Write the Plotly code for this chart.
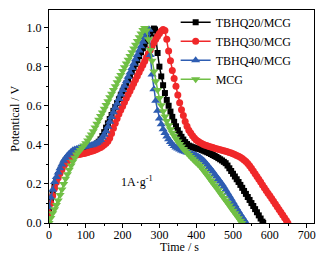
import plotly.graph_objects as go

# ---- data ----
T20_T = [0,5,10,15,20,25,30,35,40,45,50,55,60,65,70,75,80,85,90,95,100,105,110,115,120,125,130,135,140,145,150,155,160,165,170,175,180,185,190,195,200,205,210,215,220,225,230,235,240,245,250,255,260,265,270,275,280,285,
         288,290,295,300,305,310,315,320,325,330,335,340,345,350,355,360,365,370,375,380,385,390,395,400,405,410,415,420,425,430,435,440,445,450,455,460,465,470,475,480,485,490,495,500,505,510,515,520,525,530,535,540,545,550,555,560,565,570,575,580,582]
T20_V = [0.06,0.11,0.15,0.19,0.22,0.245,0.268,0.288,0.306,0.32,0.332,0.342,0.35,0.356,0.361,0.365,0.368,0.371,0.374,0.377,0.38,0.383,0.386,0.39,0.395,0.40,0.407,0.416,0.428,0.445,0.465,0.488,0.51,0.532,0.553,0.574,0.594,0.614,0.634,0.654,0.674,0.694,0.714,0.734,0.754,0.774,0.794,0.814,0.834,0.854,0.874,0.894,0.913,0.932,0.951,0.97,0.985,0.995,
         0.99,0.95,0.87,0.80,0.75,0.705,0.665,0.63,0.60,0.57,0.543,0.518,0.495,0.475,0.457,0.441,0.427,0.414,0.404,0.396,0.392,0.388,0.385,0.382,0.38,0.378,0.374,0.37,0.366,0.362,0.358,0.353,0.348,0.343,0.338,0.332,0.326,0.32,0.313,0.306,0.294,0.28,0.266,0.252,0.238,0.224,0.21,0.195,0.18,0.164,0.149,0.133,0.118,0.102,0.087,0.071,0.055,0.039,0.023,0.007,0.0]

T30_T = [0,5,10,15,20,25,30,35,40,45,50,55,60,65,70,75,80,85,90,95,100,105,110,115,120,125,130,135,140,145,150,155,160,165,170,175,180,185,190,195,200,205,210,215,220,225,230,235,240,245,250,255,260,265,270,275,280,285,290,295,300,305,310,
         315,320,325,330,335,340,345,350,355,360,365,370,375,380,385,390,395,400,405,410,415,420,425,430,435,440,445,450,455,460,465,470,475,480,485,490,495,500,505,510,515,520,525,530,535,540,545,550,555,560,565,570,575,580,585,590,595,600,605,610,615,620,625,630,635,640,645,649]
T30_V = [0.05,0.10,0.14,0.178,0.208,0.232,0.254,0.273,0.29,0.304,0.316,0.326,0.334,0.34,0.345,0.348,0.35,0.352,0.354,0.356,0.358,0.361,0.364,0.367,0.37,0.374,0.378,0.382,0.387,0.393,0.40,0.408,0.418,0.435,0.458,0.485,0.51,0.535,0.558,0.578,0.598,0.618,0.638,0.657,0.676,0.695,0.714,0.733,0.752,0.771,0.79,0.809,0.828,0.847,0.866,0.885,0.904,0.922,0.94,0.956,0.97,0.982,0.99,
         0.985,0.94,0.88,0.83,0.78,0.74,0.70,0.655,0.615,0.58,0.55,0.52,0.495,0.475,0.46,0.447,0.435,0.425,0.418,0.412,0.407,0.402,0.398,0.395,0.392,0.389,0.386,0.383,0.38,0.377,0.375,0.372,0.37,0.367,0.364,0.361,0.358,0.354,0.35,0.346,0.341,0.336,0.33,0.323,0.315,0.305,0.293,0.28,0.266,0.252,0.238,0.224,0.21,0.195,0.181,0.166,0.152,0.139,0.125,0.111,0.097,0.083,0.069,0.055,0.041,0.027,0.013,0.0]

T40_T = [0,5,10,15,20,25,30,35,40,45,50,55,60,65,70,75,80,85,90,95,100,105,110,115,120,125,130,135,140,145,150,155,160,165,170,175,180,185,190,195,200,205,210,215,220,225,230,235,240,245,250,255,260,265,270,
         272,275,280,285,290,295,300,305,310,315,320,325,330,335,340,345,350,355,360,365,370,375,380,385,390,395,400,405,410,415,420,425,430,435,440,445,450,455,460,465,470,475,480,485,490,495,500,505,510,515,520,525,530,536]
T40_V = [0.08,0.13,0.17,0.21,0.235,0.258,0.28,0.30,0.318,0.333,0.345,0.356,0.365,0.372,0.376,0.379,0.382,0.385,0.388,0.39,0.392,0.394,0.396,0.398,0.401,0.405,0.41,0.417,0.425,0.437,0.452,0.47,0.493,0.518,0.543,0.567,0.59,0.612,0.635,0.657,0.68,0.702,0.725,0.748,0.77,0.793,0.815,0.838,0.86,0.883,0.905,0.928,0.95,0.972,0.99,
         0.99,0.86,0.76,0.685,0.625,0.575,0.535,0.505,0.48,0.46,0.443,0.428,0.415,0.404,0.394,0.387,0.381,0.376,0.371,0.367,0.364,0.361,0.358,0.355,0.352,0.349,0.345,0.34,0.335,0.328,0.32,0.31,0.298,0.287,0.275,0.263,0.25,0.238,0.225,0.212,0.199,0.185,0.17,0.155,0.14,0.124,0.108,0.092,0.076,0.06,0.045,0.031,0.017,0.0]

MCG_T = [0,5,10,15,20,25,30,35,40,45,50,55,60,65,70,75,80,85,90,95,100,105,110,115,120,125,130,135,140,145,150,155,160,165,170,175,180,185,190,195,200,205,210,215,220,225,230,235,240,245,250,255,260,
         265,270,275,280,285,290,295,300,305,310,315,320,325,330,335,340,345,350,355,360,365,370,375,380,385,390,395,400,405,410,415,420,425,430,435,440,445,450,455,460,465,470,475,480,485,490,495,500,505,510,515,520,524]
MCG_V = [0.0,0.025,0.05,0.07,0.092,0.115,0.143,0.172,0.20,0.226,0.25,0.272,0.294,0.315,0.334,0.35,0.362,0.374,0.385,0.396,0.408,0.422,0.437,0.453,0.47,0.489,0.508,0.528,0.547,0.566,0.585,0.604,0.623,0.643,0.662,0.681,0.70,0.72,0.739,0.758,0.778,0.797,0.816,0.836,0.855,0.874,0.893,0.912,0.932,0.951,0.97,0.988,0.998,
         0.985,0.94,0.885,0.83,0.775,0.725,0.68,0.64,0.603,0.572,0.545,0.522,0.50,0.48,0.462,0.446,0.431,0.417,0.404,0.391,0.379,0.368,0.358,0.348,0.338,0.329,0.319,0.31,0.301,0.292,0.28,0.268,0.256,0.243,0.231,0.218,0.205,0.192,0.18,0.167,0.154,0.141,0.128,0.115,0.102,0.089,0.076,0.063,0.05,0.037,0.024,0.011,0.0]

NAMES = ["TBHQ20/MCG", "TBHQ30/MCG", "TBHQ40/MCG", "MCG"]
X_TICKS = [0, 100, 200, 300, 400, 500, 600, 700]
Y_TICKS = [0.0, 0.2, 0.4, 0.6, 0.8, 1.0]
X_TITLE = "Time / s"
Y_TITLE = "Potentical / V"
ANNOT = "1A·g<sup>-1</sup>"

SERIES = [
    (T20_T, T20_V, "#000000", "square", 6),
    (T30_T, T30_V, "#F0282A", "circle", 7),
    (T40_T, T40_V, "#2E5DB2", "triangle-up", 8),
    (MCG_T, MCG_V, "#70BF45", "triangle-down", 8),
]

FONT = "Liberation Serif, Times New Roman, serif"

fig = go.Figure()
for name, (t, v, col, sym, sz) in zip(NAMES, SERIES):
    fig.add_trace(go.Scatter(
        x=t, y=v, name=name, mode="lines+markers",
        line=dict(color=col, width=1.5),
        marker=dict(symbol=sym, size=sz, color=col, line=dict(width=0)),
    ))

fig.add_annotation(x=240, y=0.21, text=ANNOT, showarrow=False,
                   font=dict(family=FONT, size=12, color="black"))
fig.add_annotation(x=0.494, y=-0.112, xref="paper", yref="paper", text=X_TITLE,
                   showarrow=False, xanchor="center", yanchor="middle",
                   font=dict(family=FONT, size=12, color="black"))
fig.add_annotation(x=-0.128, y=0.49, xref="paper", yref="paper", text=Y_TITLE,
                   showarrow=False, xanchor="center", yanchor="middle", textangle=-90,
                   font=dict(family=FONT, size=12, color="black"))

axis_common = dict(
    showgrid=False, zeroline=False, showline=True, linecolor="black", linewidth=1,
    mirror=True, ticks="outside", ticklen=4, tickwidth=1, tickcolor="black",
    automargin=False,
    tickfont=dict(family=FONT, size=12, color="black"),
)
fig.update_xaxes(range=[0, 720], tickvals=X_TICKS, ticklabelstandoff=-3,
                 minor=dict(ticks="outside", ticklen=2, dtick=50, tick0=0, tickcolor="black"),
                 **axis_common)
fig.update_yaxes(range=[0, 1.09], tickvals=Y_TICKS, tickformat=".1f",
                 minor=dict(ticks="outside", ticklen=2, dtick=0.1, tick0=0, tickcolor="black"),
                 **axis_common)

fig.update_layout(
    width=329, height=255,
    margin=dict(l=49, r=15, t=8, b=32),
    paper_bgcolor="white", plot_bgcolor="white",
    showlegend=True,
    legend=dict(x=0.478, y=1.01, xanchor="left", yanchor="top",
                bgcolor="rgba(0,0,0,0)", borderwidth=0,
                font=dict(family=FONT, size=12, color="black"),
                itemwidth=30, tracegroupgap=0),
)

fig.write_html("out.html", config={"displayModeBar": False},
               post_script="document.body.style.margin='0';document.body.style.padding='0';")
